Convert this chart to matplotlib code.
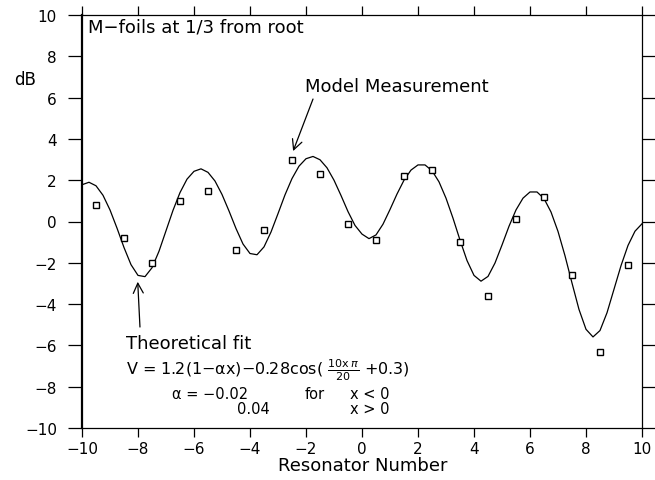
import matplotlib
matplotlib.use("Agg")
import matplotlib.pyplot as plt

# ---- data ----
meas_x = [-9.5, -8.5, -7.5, -6.5, -5.5, -4.5, -3.5, -2.5, -1.5, -0.5,
          0.5, 1.5, 2.5, 3.5, 4.5, 5.5, 6.5, 7.5, 8.5, 9.5]
meas_db = [0.8, -0.8, -2.0, 1.0, 1.5, -1.4, -0.4, 3.0, 2.3, -0.1,
           -0.9, 2.2, 2.5, -1.0, -3.6, 0.1, 1.2, -2.6, -6.3, -2.1]

fit_x = [-10.0, -9.75, -9.5, -9.25, -9.0, -8.75, -8.5, -8.25, -8.0, -7.75,
         -7.5, -7.25, -7.0, -6.75, -6.5, -6.25, -6.0, -5.75, -5.5, -5.25,
         -5.0, -4.75, -4.5, -4.25, -4.0, -3.75, -3.5, -3.25, -3.0, -2.75,
         -2.5, -2.25, -2.0, -1.75, -1.5, -1.25, -1.0, -0.75, -0.5, -0.25,
         0.0, 0.25, 0.5, 0.75, 1.0, 1.25, 1.5, 1.75, 2.0, 2.25,
         2.5, 2.75, 3.0, 3.25, 3.5, 3.75, 4.0, 4.25, 4.5, 4.75,
         5.0, 5.25, 5.5, 5.75, 6.0, 6.25, 6.5, 6.75, 7.0, 7.25,
         7.5, 7.75, 8.0, 8.25, 8.5, 8.75, 9.0, 9.25, 9.5, 9.75, 10.0]
fit_db = [1.78, 1.90, 1.73, 1.27, 0.56, -0.32, -1.26, -2.09, -2.61, -2.67,
          -2.24, -1.44, -0.45, 0.54, 1.40, 2.05, 2.43, 2.55, 2.38, 1.96,
          1.31, 0.51, -0.34, -1.09, -1.55, -1.61, -1.23, -0.51, 0.38, 1.29,
          2.08, 2.68, 3.04, 3.15, 2.99, 2.60, 2.00, 1.26, 0.48, -0.19,
          -0.61, -0.83, -0.65, -0.13, 0.58, 1.33, 2.00, 2.49, 2.74, 2.74,
          2.46, 1.92, 1.13, 0.16, -0.90, -1.89, -2.61, -2.89, -2.66, -2.01,
          -1.14, -0.23, 0.56, 1.13, 1.43, 1.43, 1.11, 0.46, -0.48, -1.66,
          -2.98, -4.26, -5.22, -5.59, -5.28, -4.42, -3.28, -2.14, -1.16, -0.47, -0.11]

ticks = [-10, -8, -6, -4, -2, 0, 2, 4, 6, 8, 10]

plt.rcParams['font.family'] = ['DejaVu Sans']
plt.rcParams['mathtext.fontset'] = 'dejavusans'

W, H = 655, 481
fig = plt.figure(figsize=(W / 100, H / 100), dpi=100)
ax = fig.add_axes([82 / W, 1 - 429 / H, 560 / W, 413 / H])

ax.plot(fit_x, fit_db, color='black', lw=0.9)
ax.plot(meas_x, meas_db, linestyle='none', marker='s', markersize=4.6,
        markerfacecolor='white', markeredgecolor='black', markeredgewidth=1.0)

ax.set_xlim(-10, 10)
ax.set_ylim(-10, 10)
ax.set_xticks(ticks)
ax.set_yticks(ticks)
ax.tick_params(axis='x', direction='out', length=6.5, width=0.9, pad=3,
               labelsize=11, top=True, bottom=True)
ax.tick_params(axis='y', direction='out', length=10, width=0.9, pad=8,
               labelsize=11, left=True, right=True)
for s in ['top', 'right', 'bottom']:
    ax.spines[s].set_linewidth(0.9)
ax.spines['left'].set_linewidth(1.6)

# texts
ax.text(-9.79, 9.42, "M\u2212foils at 1/3 from root", fontsize=13,
        ha='left', va='center')
ax.text(-2.04, 6.56, "Model Measurement", fontsize=13, ha='left', va='center')
ax.annotate("", xy=(-2.46, 3.41), xytext=(-1.75, 5.93),
            arrowprops=dict(arrowstyle='->', lw=0.9, color='black',
                            shrinkA=0, shrinkB=0, mutation_scale=18))

ax.text(-8.43, -5.86, "Theoretical fit", fontsize=13, ha='left', va='center')
ax.annotate("", xy=(-8.01, -2.92), xytext=(-7.93, -5.11),
            arrowprops=dict(arrowstyle='->', lw=0.9, color='black',
                            shrinkA=0, shrinkB=0, mutation_scale=18))

ax.text(-8.43, -7.38,
        "V = 1.2(1\u2212\u03b1x)\u22120.28cos( "
        r"$\frac{\mathrm{10x}\,\pi}{\mathrm{20}}$ +0.3)",
        fontsize=11.5, ha='left', va='baseline')
y_a, y_b = -8.55, -9.25
ax.text(-6.79, y_a, "\u03b1 = \u22120.02", fontsize=10.5, ha='left', va='baseline')
ax.text(-2.04, y_a, "for", fontsize=10.5, ha='left', va='baseline')
ax.text(-0.43, y_a, "x < 0", fontsize=10.5, ha='left', va='baseline')
ax.text(-4.46, y_b, "0.04", fontsize=10.5, ha='left', va='baseline')
ax.text(-0.43, y_b, "x > 0", fontsize=10.5, ha='left', va='baseline')

fig.text(25 / W, 1 - 80 / H, "dB", fontsize=12, ha='center', va='center')
fig.text(363 / W, 1 - 466 / H, "Resonator Number", fontsize=13,
         ha='center', va='center')

fig.savefig("out.png", dpi=100)
